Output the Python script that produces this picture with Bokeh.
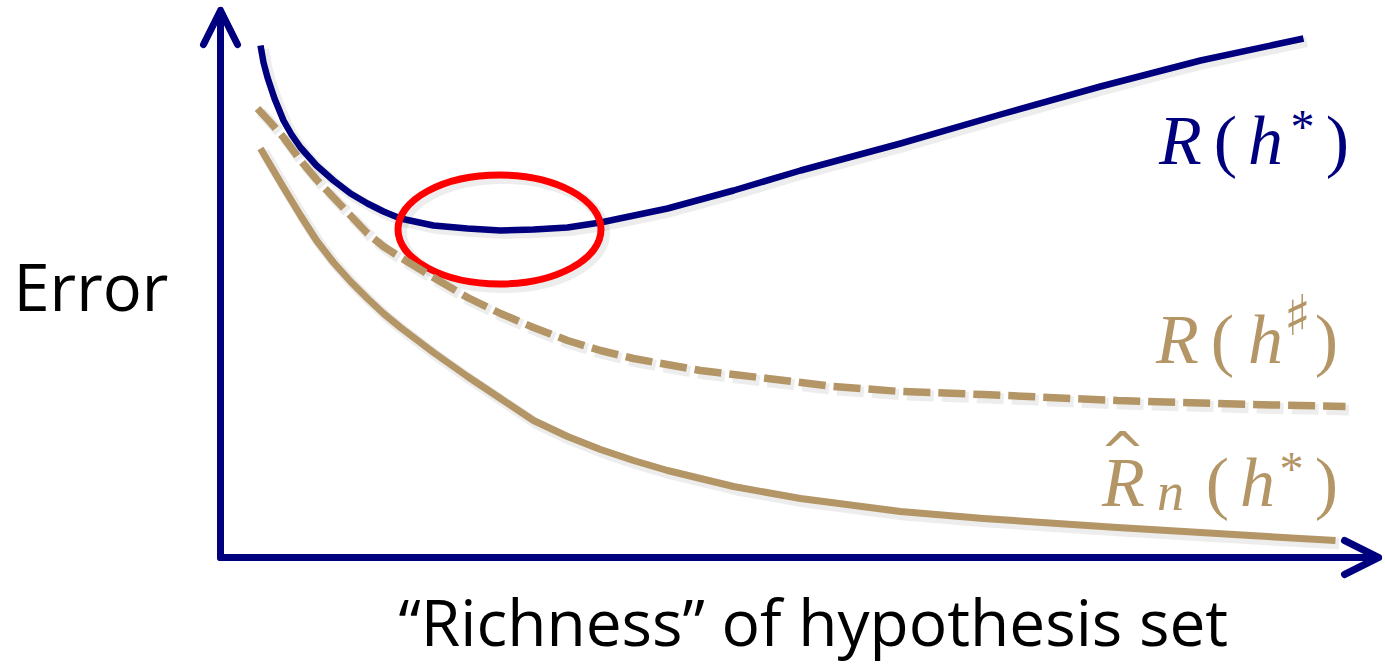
from bokeh.plotting import figure
from bokeh.models import Range1d, Arrow, OpenHead
from bokeh.core.properties import value
from bokeh.embed import file_html
from bokeh.resources import INLINE

NAVY = "#00007f"
TAN = "#b39566"
RED = "#ff0000"
SHADOW = "#000000"

# ---- data (richness units, error units) ----
true_risk_x = [0.40, 0.43, 0.47, 0.54, 0.63, 0.71, 0.80, 0.96, 1.13, 1.30, 1.47, 1.63,
               1.80, 2.13, 2.47, 2.80, 3.13, 3.47, 3.80, 4.47, 5.13, 5.80, 6.80, 7.80,
               8.80, 9.80, 10.83]
true_risk_y = [5.12, 4.95, 4.80, 4.59, 4.37, 4.23, 4.10, 3.92, 3.77, 3.64, 3.54, 3.46,
               3.39, 3.32, 3.29, 3.27, 3.28, 3.30, 3.35, 3.49, 3.67, 3.87, 4.14, 4.43,
               4.71, 4.97, 5.19]

best_risk_x = [0.37, 0.50, 0.63, 0.80, 0.96, 1.13, 1.30, 1.47, 1.63, 1.80, 2.13, 2.47,
               2.80, 3.13, 3.47, 3.80, 4.13, 4.80, 5.47, 6.13, 6.80, 7.63, 8.97, 10.30,
               11.25]
best_risk_y = [4.49, 4.35, 4.20, 3.97, 3.78, 3.60, 3.42, 3.24, 3.11, 3.00, 2.80, 2.60,
               2.44, 2.30, 2.17, 2.07, 1.99, 1.87, 1.79, 1.71, 1.66, 1.63, 1.57, 1.53,
               1.51]

emp_risk_x = [0.40, 0.50, 0.63, 0.80, 0.96, 1.13, 1.30, 1.47, 1.63, 1.80, 2.13, 2.47,
              2.80, 3.13, 3.47, 3.80, 4.13, 4.47, 5.13, 5.80, 6.80, 7.63, 8.97, 10.30,
              11.15]
emp_risk_y = [4.09, 3.92, 3.70, 3.42, 3.17, 2.95, 2.76, 2.59, 2.44, 2.30, 2.05, 1.81,
              1.59, 1.37, 1.21, 1.08, 0.97, 0.87, 0.71, 0.59, 0.46, 0.39, 0.30, 0.22,
              0.17]

# highlighted region around the minimum of R(h*)
ellipse_center = (2.79, 3.28)
ellipse_size = (2.03, 1.09)

# axes extents
x_axis_end = 11.58
y_axis_end = 5.47

y_label = "Error"
x_label = "\u201cRichness\u201d of hypothesis set"

# curve labels: anchor (x, y) in data units; pieces = (text, dx px, dy px, size, style, font)
SERIF = "Liberation Serif"
SYM = "DejaVu Sans"
label_true = dict(anchor=(9.30, 4.17), color=NAVY, pieces=[
    ("R", 30, 0, "70px", "italic", SERIF),
    ("(", 75, 0, "70px", "normal", SERIF),
    ("h", 115, 0, "70px", "italic", SERIF),
    ("*", 152, -14, "48px", "normal", SERIF),
    (")", 187, 0, "70px", "normal", SERIF),
])
label_best = dict(anchor=(9.27, 2.18), color=TAN, pieces=[
    ("R", 30, 0, "70px", "italic", SERIF),
    ("(", 75, 0, "70px", "normal", SERIF),
    ("h", 118, 0, "70px", "italic", SERIF),
    ("\u266f", 150, -24, "56px", "normal", SYM),
    (")", 179, 0, "70px", "normal", SERIF),
])
label_emp = dict(anchor=(8.77, 0.75), color=TAN, pieces=[
    ("^", 25, -31, "55px", "normal", SYM),
    ("R", 26, 0, "70px", "italic", SERIF),
    ("n", 73, 9, "54px", "italic", SERIF),
    ("(", 120, 0, "70px", "normal", SERIF),
    ("h", 160, 0, "70px", "italic", SERIF),
    ("*", 194, -14, "48px", "normal", SERIF),
    (")", 229, 0, "70px", "normal", SERIF),
])

# ---- figure ----
p = figure(width=1385, height=665, output_backend="svg", toolbar_location=None,
           x_range=Range1d(-2.20, 11.65), y_range=Range1d(-1.08, 5.57),
           min_border=0, outline_line_color=None)
p.xaxis.visible = False
p.yaxis.visible = False
p.grid.visible = False
p.background_fill_color = "white"

sh_dx, sh_dy = 0.035, -0.035

def shadow_line(xs, ys, w, dash="solid"):
    p.line([x + sh_dx for x in xs], [y + sh_dy for y in ys], line_color=SHADOW,
           line_alpha=0.07, line_width=w + 4, line_dash=dash)

# R(h*)
shadow_line(true_risk_x, true_risk_y, 6)
p.line(true_risk_x, true_risk_y, line_color=NAVY, line_width=6.5, line_join="round")

# ellipse
p.ellipse(x=[ellipse_center[0] + sh_dx], y=[ellipse_center[1] + sh_dy],
          width=[ellipse_size[0]], height=[ellipse_size[1]], fill_color=None,
          line_color=SHADOW, line_alpha=0.07, line_width=11)
p.ellipse(x=[ellipse_center[0]], y=[ellipse_center[1]], width=[ellipse_size[0]],
          height=[ellipse_size[1]], fill_color=None, line_color=RED, line_width=7)

# R(h#) dashed
shadow_line(best_risk_x, best_risk_y, 7, "27 8")
p.line(best_risk_x, best_risk_y, line_color=TAN, line_width=7.5, line_dash="27 8")

# empirical risk
shadow_line(emp_risk_x, emp_risk_y, 7)
p.line(emp_risk_x, emp_risk_y, line_color=TAN, line_width=7, line_join="round")

# axes as arrows
for (xe, ye) in [(0, y_axis_end), (x_axis_end, 0)]:
    head = OpenHead(size=34, line_color=NAVY, line_width=7, line_cap="round",
                    line_join="round")
    p.add_layout(Arrow(end=head, x_start=0, y_start=0, x_end=xe, y_end=ye,
                       line_color=NAVY, line_width=7, line_cap="round"))

# axis titles
p.text(x=[-2.07], y=[2.72], text=[y_label], text_font=value("Open Sans"),
       text_font_size="65px", text_color="black", text_baseline="alphabetic")
p.text(x=[1.78], y=[-0.64], text=[x_label], text_font=value("Open Sans"),
       text_font_size="64px", text_color="black", text_baseline="alphabetic")

# curve labels, one text mark per piece
for lab in (label_true, label_best, label_emp):
    ax, ay = lab["anchor"]
    for (t, dx, dy, size, style, font) in lab["pieces"]:
        p.text(x=[ax], y=[ay], text=[t], x_offset=dx, y_offset=dy,
               text_font_size=size, text_font_style=style, text_font=value(font),
               text_color=lab["color"], text_align="center",
               text_baseline="alphabetic")

open("out.html", "w").write(file_html(p, INLINE))
